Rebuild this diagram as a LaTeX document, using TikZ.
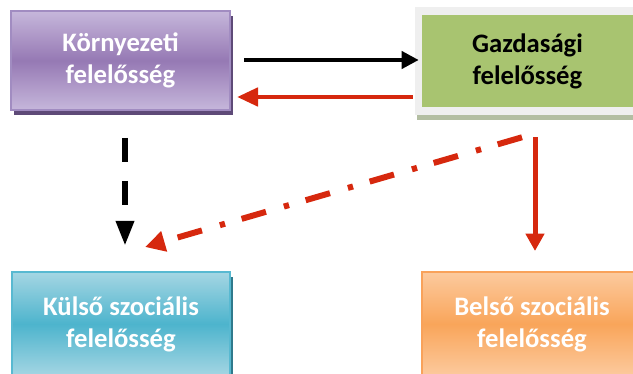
\documentclass[tikz,border=0pt]{standalone}
\usepackage{fontspec}
\setmainfont{Carlito}
\usetikzlibrary{arrows.meta,shadows}
\definecolor{purpEdge}{HTML}{C6B7DB}
\definecolor{purpMid}{HTML}{9679B4}
\definecolor{purpLine}{HTML}{A18CC1}
\definecolor{purpShadow}{HTML}{5E4A78}
\definecolor{greenFill}{HTML}{A8C470}
\definecolor{frameGray}{HTML}{EFEFEF}
\definecolor{greenShadow}{HTML}{B3BEA2}
\definecolor{cyanEdge}{HTML}{A5D6E3}
\definecolor{cyanMid}{HTML}{4DB4CD}
\definecolor{cyanLine}{HTML}{58B9D1}
\definecolor{cyanShadow}{HTML}{2F7A8C}
\definecolor{orEdge}{HTML}{FCCA9E}
\definecolor{orMid}{HTML}{F9A55A}
\definecolor{orLine}{HTML}{F9A25A}
\definecolor{arrRed}{RGB}{214,40,14}
\tikzset{
  boxtext/.style={align=center,font=\bfseries\fontsize{20}{24}\selectfont,inner sep=0pt},
  purpbox/.style={boxtext,text=white,draw=purpLine,line width=1.5pt,
    top color=purpEdge,bottom color=purpEdge,middle color=purpMid,
    minimum width=164.25pt,minimum height=74.25pt,
    drop shadow={shadow xshift=2.5pt,shadow yshift=-3.5pt,fill=purpShadow,opacity=1}},
  framebox/.style={fill=frameGray,minimum width=168.75pt,minimum height=81pt,inner sep=0pt,
    drop shadow={shadow xshift=1.5pt,shadow yshift=-3.5pt,fill=greenShadow,opacity=1}},
  greenbox/.style={boxtext,text=black,fill=greenFill,minimum width=158.25pt,minimum height=69pt},
  cyanbox/.style={boxtext,text=white,draw=cyanLine,line width=1.5pt,
    top color=cyanEdge,bottom color=cyanEdge,middle color=cyanMid,
    minimum width=163.5pt,minimum height=78pt,
    drop shadow={shadow xshift=2.5pt,shadow yshift=-4pt,fill=cyanShadow,opacity=1}},
  orbox/.style={boxtext,text=white,draw=orLine,line width=1.5pt,
    top color=orEdge,bottom color=orEdge,middle color=orMid,
    minimum width=165pt,minimum height=78pt},
  blkarrow/.style={draw=black,line width=3pt,-{Triangle[length=12.75pt,width=12.75pt]}},
  redarrow/.style={draw=arrRed,line width=3.5pt,-{Triangle[length=15.75pt,width=13.5pt]}},
  blkdash/.style={draw=black,line width=4.5pt,dash pattern=on 18pt off 14.25pt,
    -{Triangle[length=18.75pt,width=12.75pt]}},
  reddashdot/.style={draw=arrRed,line width=4.5pt,dash pattern=on 19pt off 13pt on 4pt off 14pt,
    -{Triangle[length=15pt,width=15pt]}},
  redvert/.style={draw=arrRed,line width=3.75pt,-{Triangle[length=13pt,width=13.5pt]}}
}
\begin{document}
\begin{tikzpicture}[x=0.75pt,y=-0.75pt]
\useasboundingbox (0,0) rectangle (633,374);
\clip (0,0) rectangle (633,374);
\node[purpbox] (kor) at (120.5,60.5) {Környezeti\\felelősség};
\node[framebox] (gazf) at (527.5,61) {};
\node[greenbox] (gaz) at (527.5,61) {Gazdasági\\felelősség};
\node[cyanbox] (kul) at (121,324) {Külső szociális\\felelősség};
\node[orbox] (bel) at (532,324) {Belső szociális\\felelősség};
\draw[blkarrow] ([shift={(13,-0.5)}]kor.east) -- ([shift={(4,-1)}]gazf.west);
\draw[redarrow] ([shift={(-2,36)}]gazf.west) -- ([shift={(6,36.5)}]kor.east);
\draw[blkdash] ([shift={(4.5,27)}]kor.south) -- ([shift={(4,-25)}]kul.north);
\draw[reddashdot] ([shift={(-5.5,22)}]gazf.south) -- ([shift={(24,-24)}]kul.north);
\draw[redvert] ([shift={(7.5,22)}]gazf.south) -- ([shift={(3,-20)}]bel.north);
\end{tikzpicture}
\end{document}
